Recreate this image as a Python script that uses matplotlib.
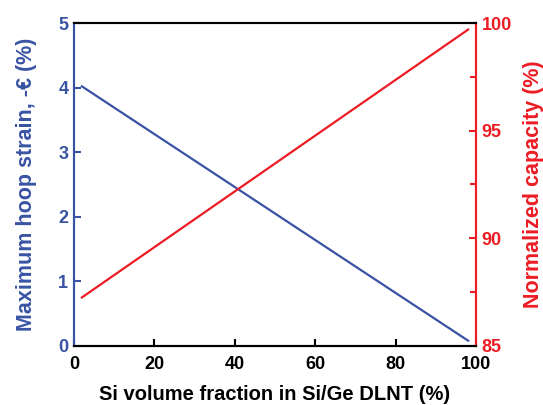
import matplotlib
matplotlib.use('Agg')
import matplotlib.pyplot as plt
from matplotlib.ticker import MultipleLocator

plt.rcParams['font.family'] = ['Liberation Sans', 'DejaVu Sans']
plt.rcParams['font.weight'] = 'bold'

# Data
si_fraction = [2, 98]
hoop_strain = [4.02, 0.08]
norm_capacity = [87.25, 99.7]

blue = '#3953a4'
red = '#ed1c24'

fig, ax = plt.subplots(figsize=(5.43, 4.05), dpi=100)
fig.subplots_adjust(left=0.136, right=0.877, top=0.943, bottom=0.146)
ax2 = ax.twinx()

ax.plot(si_fraction, hoop_strain, color=blue, lw=1.6)
ax2.plot(si_fraction, norm_capacity, color=red, lw=1.6)

ax.set_xlim(0, 100)
ax.set_ylim(0, 5)
ax2.set_ylim(85, 100)
ax.xaxis.set_major_locator(MultipleLocator(20))
ax.yaxis.set_major_locator(MultipleLocator(1))
ax2.yaxis.set_major_locator(MultipleLocator(5))
ax2.yaxis.set_minor_locator(MultipleLocator(2.5))

ax.set_xlabel('Si volume fraction in Si/Ge DLNT (%)', fontsize=14.5, fontweight='bold', labelpad=9)
ax.set_ylabel('Maximum hoop strain, -\u20ac (%)', fontsize=15.5, fontweight='bold', color=blue, labelpad=15)
ax2.set_ylabel('Normalized capacity (%)', fontsize=15.5, fontweight='bold', color=red, labelpad=8)

ax.tick_params(axis='x', direction='in', length=5, width=1.5, labelsize=13, pad=7)
ax.tick_params(axis='y', direction='in', length=5, width=1.5, labelsize=13, colors=blue, pad=4)
ax2.tick_params(axis='y', which='major', direction='in', length=5, width=1.5, labelsize=13, colors=red, pad=4)
ax2.tick_params(axis='y', which='minor', direction='in', length=4, width=1.5, colors=red)

for a in (ax, ax2):
    a.spines['top'].set_linewidth(1.5)
    a.spines['bottom'].set_linewidth(1.5)
    a.spines['left'].set_linewidth(1.5)
    a.spines['right'].set_linewidth(1.5)
    a.spines['left'].set_color(blue)
    a.spines['right'].set_color(red)

fig.savefig('out.png', dpi=100)
